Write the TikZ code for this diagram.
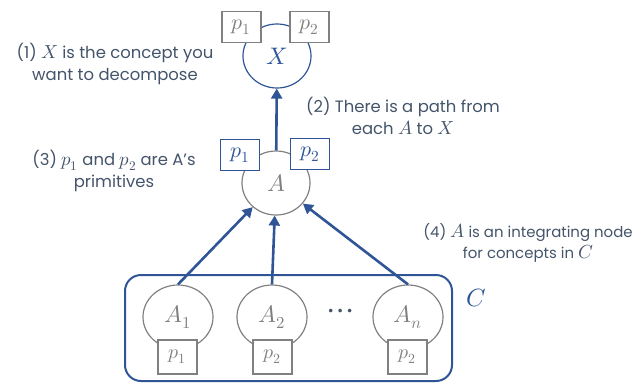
\documentclass[tikz,border=0pt]{standalone}
\usepackage{fontspec}
\usepackage{unicode-math}
\setmainfont{Poppins}
\setmathfont{Latin Modern Math}
\usetikzlibrary{shapes.geometric,arrows.meta}
\definecolor{notec}{HTML}{44546A}
\definecolor{navy}{HTML}{2F5597}
\definecolor{mid}{HTML}{808080}
% slightly larger math symbols inside the annotation text
\newcommand{\nm}[1]{{\fontsize{19}{22}\selectfont$#1$}}

\begin{document}
\begin{tikzpicture}[x=1bp,y=-1bp,
  concept/.style={ellipse,draw=mid,line width=1.2bp,minimum width=68bp,
    minimum height=64bp,inner sep=0pt,text=mid,font=\fontsize{24}{24}\selectfont},
  prim/.style={rectangle,draw=mid,fill=white,line width=1.2bp,minimum width=39bp,
    minimum height=31bp,inner sep=0pt,text=mid,font=\fontsize{22}{22}\selectfont},
  smallprim/.style={prim,minimum height=34bp,font=\fontsize{20}{20}\selectfont},
  note/.style={align=center,text=notec,font=\fontsize{16.5}{22}\selectfont},
  link/.style={draw=navy,line width=2.6bp,-{Triangle[length=10bp,width=11bp]}}]
  \useasboundingbox (0,0) rectangle (633,383);

  % concept group C
  \node[draw=navy,line width=2bp,rounded corners=16bp,minimum width=327bp,
    minimum height=106bp,inner sep=0pt] (group) at (288.5,328) {};
  \node[text=navy,font=\fontsize{25}{25}\selectfont] (clabel) at (476,298) {$C$};

  % target concept X
  \node[concept,draw=navy,text=navy] (X) at (277,56) {$X$};
  \node[prim] (xp1) at (241.5,27) {$p_1$};
  \node[prim] (xp2) at (309.5,27) {$p_2$};

  % integrating node A
  \node[concept] (A) at (276,183) {$A$};
  \node[prim,draw=navy,text=navy] (ap1) at (240,155) {$p_1$};
  \node[prim,draw=navy,text=navy] (ap2) at (310,154) {$p_2$};

  % concepts inside C
  \node[concept,minimum width=70bp] (A1) at (178,317) {$A_1$};
  \node[concept,minimum width=70bp] (A2) at (272,317) {$A_2$};
  \node[concept,minimum width=70bp] (An) at (408,317) {$A_n$};
  \node[smallprim] (b1) at (177.5,357) {$p_1$};
  \node[smallprim] (b2) at (272.5,357) {$p_2$};
  \node[smallprim] (bn) at (407.5,357) {$p_2$};
  \node[text=notec,font=\fontsize{34}{34}\selectfont\boldmath] (dots) at (341,314) {$\cdots$};

  % connections
  \draw[link] (A) -- (X);
  \draw[link] (A1.north) -- (A);
  \draw[link] (A2.north) -- (A);
  \draw[link] (An.north) -- (A);

  % annotations
  \node[note] (n1) at (115,64) {(1) \nm{X} is the concept you\\want to decompose};
  \node[note] (n2) at (403,116) {(2) There is a path from\\each \nm{A} to \nm{X}};
  \node[note] (n3) at (114,171) {(3) \nm{p_1} and \nm{p_2} are A's\\primitives};
  \node[note,font=\fontsize{15}{21}\selectfont] (n4) at (528,243) {(4) \nm{A} is an integrating node\\for concepts in \nm{C}};
\end{tikzpicture}
\end{document}
